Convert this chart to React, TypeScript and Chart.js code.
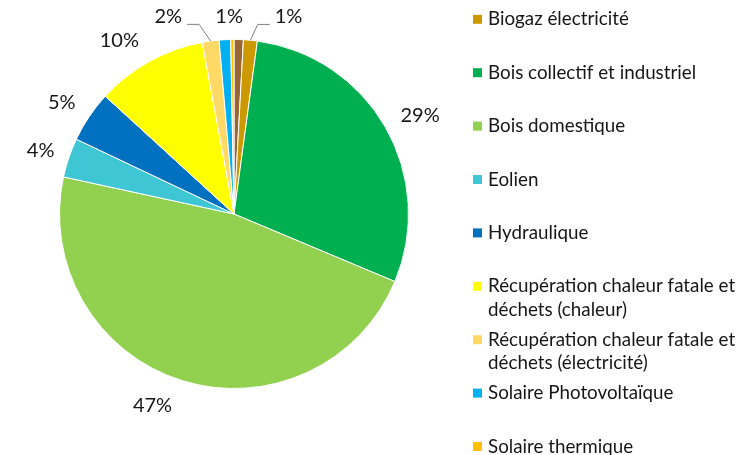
import React, { useEffect, useRef } from "react";
import { Chart, registerables } from "chart.js";

Chart.register(...registerables);

// ---- data ----
const categories = [
  "Biogaz chaleur",
  "Biogaz électricité",
  "Bois collectif et industriel",
  "Bois domestique",
  "Eolien",
  "Hydraulique",
  "Récupération chaleur fatale et déchets (chaleur)",
  "Récupération chaleur fatale et déchets (électricité)",
  "Solaire Photovoltaïque",
  "Solaire thermique",
];
const shares = [0.86, 1.28, 29.2, 47.1, 3.64, 4.75, 10.3, 1.55, 1.06, 0.3];
const legendShown = [false, true, true, true, true, true, true, true, true, true];
const labelShown = [false, true, true, true, true, true, true, true, true, false];

// ---- style ----
const colors = [
  "#996633",
  "#CC9900",
  "#00B050",
  "#92D050",
  "#3FC6D4",
  "#0070C0",
  "#FFFF00",
  "#FFD966",
  "#00B0F0",
  "#FFC000",
];
const FONT = "Lato, 'Open Sans', sans-serif";
const TEXT = "#161616";
// label layout tweaks (pixel nudges from the default outside position) and leader flags
const labelNudge: [number, number][] = [
  [0, 0],
  [35, 9],
  [6, 5],
  [-19, -6],
  [3, 3],
  [0, 4],
  [-14, 8],
  [-38, 8],
  [6, 10],
  [0, 0],
];
const labelLeader = [false, true, false, false, false, false, false, true, false, false];

const labelPlugin = {
  id: "pieLabels",
  afterDatasetsDraw(chart: any) {
    const ctx = chart.ctx;
    const meta = chart.getDatasetMeta(0);
    const data = chart.data.datasets[0].data as number[];
    const total = data.reduce((a, b) => a + b, 0);
    ctx.save();
    ctx.font = `20px ${FONT}`;
    ctx.fillStyle = TEXT;
    ctx.textAlign = "center";
    ctx.textBaseline = "middle";
    meta.data.forEach((arc: any, i: number) => {
      if (!labelShown[i]) return;
      const mid = (arc.startAngle + arc.endAngle) / 2;
      const R = arc.outerRadius + 33;
      const lx = arc.x + R * Math.cos(mid) + labelNudge[i][0];
      const ly = arc.y + R * Math.sin(mid) + labelNudge[i][1];
      const txt = Math.round((data[i] / total) * 100) + "%";
      ctx.fillText(txt, lx, ly);
      if (labelLeader[i]) {
        const w = ctx.measureText(txt).width;
        const ex = arc.x + arc.outerRadius * Math.cos(mid);
        const ey = arc.y + arc.outerRadius * Math.sin(mid);
        const side = ex > lx ? 1 : -1;
        const edge = lx + side * (w / 2);
        const yy = ly + 8;
        ctx.strokeStyle = "#808080";
        ctx.lineWidth = 1;
        ctx.beginPath();
        ctx.moveTo(ex, ey);
        ctx.lineTo(edge + side * 17, yy);
        ctx.lineTo(edge + side * 5, yy);
        ctx.stroke();
      }
    });
    ctx.restore();
  },
};

const legendPlugin = {
  id: "sideLegend",
  afterDraw(chart: any) {
    const ctx = chart.ctx;
    const area = chart.chartArea;
    const x0 = area.right + 64;
    const textX = x0 + 15;
    const maxW = chart.width - textX - 2;
    const step = 53.4;
    let y = 19.3;
    ctx.save();
    ctx.font = `18.8px ${FONT}`;
    ctx.fillStyle = TEXT;
    ctx.textAlign = "left";
    ctx.textBaseline = "middle";
    categories.forEach((name, i) => {
      if (!legendShown[i]) return;
      ctx.fillStyle = colors[i];
      ctx.fillRect(x0, y - 4.5, 9, 9);
      // wrap
      const words = name.split(" ");
      const lines: string[] = [];
      let cur = "";
      words.forEach((w) => {
        const t = cur ? cur + " " + w : w;
        if (ctx.measureText(t).width > maxW && cur) {
          lines.push(cur);
          cur = w;
        } else cur = t;
      });
      if (cur) lines.push(cur);
      ctx.fillStyle = TEXT;
      lines.forEach((ln, k) => ctx.fillText(ln, textX, y + k * 23.5));
      y += step;
    });
    ctx.restore();
  },
};

export default function App() {
  const ref = useRef<HTMLCanvasElement | null>(null);
  useEffect(() => {
    document.body.style.margin = "0";
    const canvas = ref.current!;
    const chart = new Chart(canvas, {
      type: "pie",
      data: {
        labels: categories,
        datasets: [
          {
            data: shares,
            backgroundColor: colors,
            borderColor: "#ffffff",
            borderWidth: 1,
          },
        ],
      },
      options: {
        responsive: false,
        animation: false,
        devicePixelRatio: 1,
        layout: { padding: { left: 59, top: 39, right: 339, bottom: 66 } },
        plugins: {
          legend: { display: false },
          tooltip: { enabled: false },
        },
      },
      plugins: [labelPlugin, legendPlugin],
    });
    return () => chart.destroy();
  }, []);
  return (
    <div style={{ width: 748, height: 455, background: "#fff" }}>
      <canvas ref={ref} width={748} height={455} />
    </div>
  );
}
